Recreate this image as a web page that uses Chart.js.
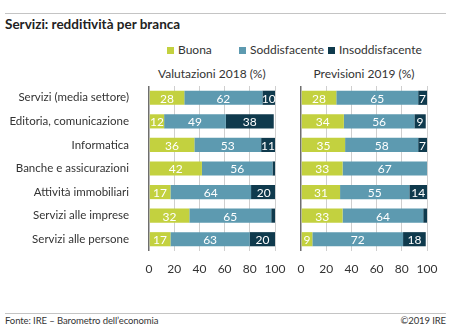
<!DOCTYPE html>
<html>
<head>
<meta charset="utf-8">
<script src="https://cdn.jsdelivr.net/npm/chart.js@4"></script>
<style>
  body { margin: 0; background: #fff; font-family: Lato, sans-serif; color: #333; }
  #wrap { position: relative; width: 449px; height: 328px; overflow: hidden; }
  .abs { position: absolute; white-space: nowrap; }
  .line { position: absolute; left: 5px; width: 441px; height: 1px; background: #c4c4c4; }
  .sq { display: inline-block; width: 7px; height: 7px; margin-right: 4px; vertical-align: 0px; }
  canvas { position: absolute; }
</style>
</head>
<body>
<div id="wrap">
  <div class="line" style="top:13px"></div>
  <div class="abs" style="left:5px;top:16px;font-size:13.5px;font-weight:bold;color:#222">Servizi: redditività per branca</div>
  <div class="abs" style="left:167px;top:42px;font-size:12px"><span class="sq" style="background:#c3d13f"></span>Buona</div>
  <div class="abs" style="left:239px;top:42px;font-size:12px"><span class="sq" style="background:#5d9ab0"></span>Soddisfacente</div>
  <div class="abs" style="left:328px;top:42px;font-size:12px"><span class="sq" style="background:#0f3a4d"></span>Insoddisfacente</div>
  <div class="abs" id="t1" style="top:66px;font-size:12px">Valutazioni 2018 (%)</div>
  <div class="abs" id="t2" style="top:66px;font-size:12px">Previsioni 2019 (%)</div>
  <canvas id="c1" width="290" height="200" style="left:0;top:80px;width:290px;height:200px"></canvas>
  <canvas id="c2" width="160" height="200" style="left:286px;top:80px;width:160px;height:200px"></canvas>
  <div class="line" style="top:313px"></div>
  <div class="abs" style="left:5px;top:315px;font-size:9.5px;letter-spacing:-0.1px">Fonte: IRE – Barometro dell’economia</div>
  <div class="abs" style="right:3px;top:315px;font-size:9.5px;letter-spacing:-0.1px">©2019 IRE</div>
</div>
<script>
const categories = ['Servizi (media settore)', 'Editoria, comunicazione', 'Informatica',
  'Banche e assicurazioni', 'Attività immobiliari', 'Servizi alle imprese', 'Servizi alle persone'];
const seriesNames = ['Buona', 'Soddisfacente', 'Insoddisfacente'];
const colors = ['#c3d13f', '#5d9ab0', '#0f3a4d'];

const buona2018 = [28, 12, 36, 42, 17, 32, 17];
const sodd2018 = [62, 49, 53, 56, 64, 65, 63];
const insodd2018 = [10, 38, 11, 2, 20, 3, 20];

const buona2019 = [28, 34, 35, 33, 31, 33, 9];
const sodd2019 = [65, 56, 58, 67, 55, 64, 72];
const insodd2019 = [7, 9, 7, 0, 14, 3, 18];

const xTicks = [0, 20, 40, 60, 80, 100];

// white numbers in the middle of each segment
const valueLabels = {
  id: 'valueLabels',
  afterDatasetsDraw(chart) {
    const ctx = chart.ctx;
    ctx.save();
    ctx.font = '12px Lato';
    ctx.fillStyle = '#fff';
    ctx.textAlign = 'center';
    ctx.textBaseline = 'middle';
    chart.data.datasets.forEach((ds, i) => {
      chart.getDatasetMeta(i).data.forEach((bar, j) => {
        const v = ds.data[j];
        if (v < 5) return;
        const p = bar.getCenterPoint();
        ctx.fillText(v, p.x, p.y + 1);
      });
    });
    ctx.restore();
  }
};

function makeChart(id, values, showLabels, padding) {
  return new Chart(document.getElementById(id), {
    type: 'bar',
    data: {
      labels: categories,
      datasets: values.map((d, i) => ({
        label: seriesNames[i],
        data: d,
        backgroundColor: colors[i],
        borderWidth: 0,
        categoryPercentage: 1,
        barPercentage: 0.6
      }))
    },
    options: {
      indexAxis: 'y',
      responsive: false,
      animation: false,
      layout: { padding: padding },
      plugins: { legend: { display: false }, tooltip: { enabled: false } },
      scales: {
        x: {
          stacked: true,
          min: 0, max: 100,
          afterBuildTicks: s => { s.ticks = xTicks.map(v => ({ value: v })); },
          afterFit: s => { s.height = 29; s.paddingLeft = 0; s.paddingRight = 0; },
          border: { display: false },
          grid: {
            drawTicks: false,
            color: c => c.tick && c.tick.value === 0 ? '#6e6e6e' : '#cfcfcf',
            lineWidth: c => c.tick && c.tick.value === 0 ? 1.5 : 1
          },
          ticks: { padding: 11, maxRotation: 0, minRotation: 0, autoSkip: false,
            color: '#333', font: { family: 'Lato', size: 12 } }
        },
        y: {
          stacked: true,
          display: showLabels,
          afterFit: s => {
            if (showLabels) s.width = 149;
            s.paddingTop = 0; s.paddingBottom = 0;
          },
          border: { display: false },
          grid: { display: false, drawTicks: false },
          ticks: { padding: 20, color: '#333', font: { family: 'Lato', size: 11.5 } }
        }
      }
    },
    plugins: [valueLabels]
  });
}

const ch1 = makeChart('c1', [buona2018, sodd2018, insodd2018], true, { top: 6, right: 15, bottom: 0, left: 0 });
const ch2 = makeChart('c2', [buona2019, sodd2019, insodd2019], false, { top: 6, right: 19, bottom: 0, left: 15 });

// centre the panel titles over their plot areas
function centre(id, chart, offset) {
  const el = document.getElementById(id);
  const mid = offset + (chart.chartArea.left + chart.chartArea.right) / 2;
  el.style.left = (mid - el.offsetWidth / 2) + 'px';
}
centre('t1', ch1, 0);
centre('t2', ch2, 286);
</script>
</body>
</html>
